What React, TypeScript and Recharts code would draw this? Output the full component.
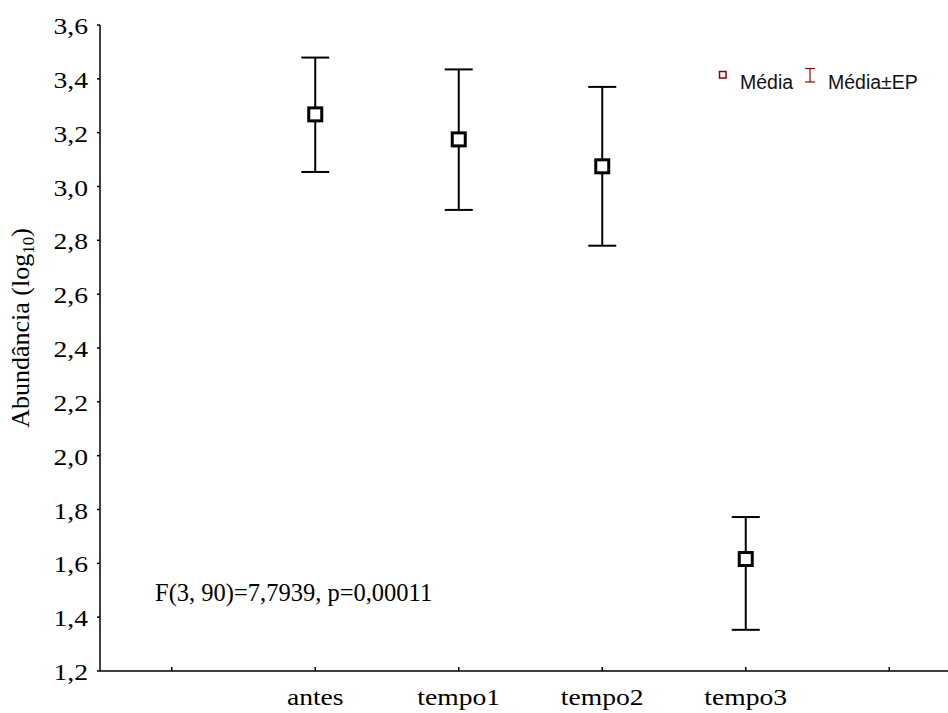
import {
  ScatterChart,
  Scatter,
  XAxis,
  YAxis,
  ErrorBar,
} from "recharts";

const categories = ["antes", "tempo1", "tempo2", "tempo3"];
const means = [3.268, 3.175, 3.075, 1.616];
const lowerEP = [3.054, 2.913, 2.78, 1.353];
const upperEP = [3.479, 3.435, 3.37, 1.772];
const xTicks = [0, 1, 2, 3, 4, 5];
const yTicks = [1.2, 1.4, 1.6, 1.8, 2.0, 2.2, 2.4, 2.6, 2.8, 3.0, 3.2, 3.4, 3.6];

const data = categories.map((name, i) => ({
  name,
  pos: i + 1,
  mean: means[i],
  err: [means[i] - lowerEP[i], upperEP[i] - means[i]],
}));

const SERIF = "'Liberation Serif', 'Times New Roman', serif";
const SANS = "'Liberation Sans', Arial, sans-serif";
const STRETCH = "scale(1.15,1)";

const fmt = (v: number) => v.toFixed(1).replace(".", ",");

const YTick = (props: any) => {
  const { x, y, payload } = props;
  return (
    <g transform={`translate(${x},${y})`}>
      <text
        transform={STRETCH}
        textAnchor="end"
        dy={9}
        fontFamily={SERIF}
        fontSize={24}
        fill="#000"
      >
        {fmt(payload.value)}
      </text>
    </g>
  );
};

const BottomTick = (props: any) => {
  const { x, y, payload } = props;
  const label = categories[payload.value - 1];
  return (
    <g>
      <line x1={x} y1={y} x2={x} y2={y - 4} stroke="#000" strokeWidth={1.5} />
      {label && (
        <g transform={`translate(${x},${y + 34})`}>
          <text
            transform={STRETCH}
            textAnchor="middle"
            fontFamily={SERIF}
            fontSize={24}
            fill="#000"
          >
            {label}
          </text>
        </g>
      )}
    </g>
  );
};

const TopTick = (props: any) => {
  const { x, y } = props;
  return <line x1={x} y1={y} x2={x} y2={y + 5} stroke="#000" strokeWidth={1.5} />;
};

const MeanSquare = (props: any) => {
  const { cx, cy } = props;
  return (
    <rect
      x={cx - 6.5}
      y={cy - 6.5}
      width={13}
      height={13}
      fill="#fff"
      stroke="#000"
      strokeWidth={3}
    />
  );
};

export default function App() {
  return (
    <div
      style={{
        position: "absolute",
        left: 0,
        top: 0,
        width: 948,
        height: 713,
        overflow: "hidden",
        background: "#fff",
      }}
    >
      <ScatterChart
        width={961}
        height={713}
        margin={{ top: 25, right: 0, bottom: 0, left: 0 }}
      >
        <XAxis
          dataKey="pos"
          type="number"
          domain={[-0.5, 5.5]}
          ticks={xTicks}
          interval={0}
          height={42}
          tickSize={0}
          tickMargin={0}
          tickLine={false}
          axisLine={{ stroke: "#000", strokeWidth: 1.5 }}
          tick={<BottomTick />}
        />
        <XAxis
          xAxisId="top"
          orientation="top"
          type="number"
          domain={[-0.5, 5.5]}
          ticks={xTicks}
          interval={0}
          height={0}
          tickSize={0}
          tickMargin={0}
          tickLine={false}
          axisLine={{ stroke: "#000", strokeWidth: 1.5 }}
          tick={<TopTick />}
        />
        <YAxis
          dataKey="mean"
          type="number"
          domain={[1.2, 3.6]}
          ticks={yTicks}
          interval={0}
          width={100}
          tickSize={3}
          tickMargin={9}
          tickLine={{ stroke: "#000", strokeWidth: 1.5 }}
          axisLine={{ stroke: "#000", strokeWidth: 1.5 }}
          tick={<YTick />}
        />
        <Scatter data={data} shape={<MeanSquare />} isAnimationActive={false}>
          <ErrorBar
            dataKey="err"
            direction="y"
            width={14}
            stroke="#000"
            strokeWidth={2}
            isAnimationActive={false}
          />
        </Scatter>
      </ScatterChart>

      <svg
        width={948}
        height={713}
        style={{ position: "absolute", left: 0, top: 0, pointerEvents: "none" }}
      >
        <text
          transform="translate(29,328) rotate(-90)"
          textAnchor="middle"
          fontFamily={SERIF}
          fontSize={26}
          fill="#000"
        >
          Abundância (log
          <tspan fontSize={17} dy={5}>
            10
          </tspan>
          <tspan dy={-5}>)</tspan>
        </text>

        <text x={155} y={601} fontFamily={SERIF} fontSize={24.5} fill="#000">
          F(3, 90)=7,7939, p=0,00011
        </text>

        <rect x={719.5} y={71.5} width={6.5} height={6.5} fill="#fff" stroke="#8b0000" strokeWidth={1.5} />
        <text x={740} y={89} fontFamily={SANS} fontSize={19.5} fill="#111">
          Média
        </text>
        <line x1={810} y1={68.5} x2={810} y2={82} stroke="#a00000" strokeWidth={1.2} />
        <line x1={805} y1={68.5} x2={815} y2={68.5} stroke="#a00000" strokeWidth={1.2} />
        <line x1={805} y1={82} x2={815} y2={82} stroke="#a00000" strokeWidth={1.2} />
        <text x={828} y={89} fontFamily={SANS} fontSize={19.5} fill="#111">
          Média±EP
        </text>
      </svg>
    </div>
  );
}
